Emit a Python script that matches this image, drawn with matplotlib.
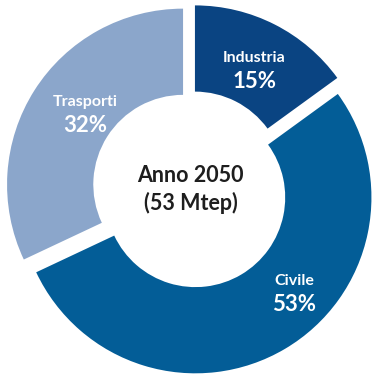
import numpy as np
import matplotlib.pyplot as plt

settori = ["Industria", "Civile", "Trasporti"]
quote = [15, 53, 32]
colori = ["#0a4482", "#035d97", "#8ba6cb"]
titolo = "Anno 2050\n(53 Mtep)"

# posizioni delle etichette (angolo in gradi, raggio)
pos_etichette = [(62, 0.72), (-44, 0.78), (144, 0.69)]

plt.rcParams["font.family"] = ["Lato", "DejaVu Sans"]

fig = plt.figure(figsize=(3.74, 3.79), dpi=100)
ax = fig.add_axes([0, 0, 1, 1])

wedges, _ = ax.pie(quote, colors=colori, startangle=90, counterclock=False,
                   explode=[0.052] * len(quote),
                   wedgeprops={"width": 0.49, "linewidth": 0})

for w, nome, q, (ang, r) in zip(wedges, settori, quote, pos_etichette):
    cx, cy = w.center
    x = cx + r * np.cos(np.radians(ang))
    y = cy + r * np.sin(np.radians(ang))
    ax.text(x, y + 0.065, nome, color="white", ha="center", va="center",
            fontsize=11.5, fontweight="bold")
    ax.text(x, y - 0.068, "%d%%" % q, color="white", ha="center", va="center",
            fontsize=16, fontweight="bold")

ax.text(0, 0.0, titolo, ha="center", va="center", fontsize=15.5,
        fontweight="bold", color="#1e1e1e", linespacing=1.3)

ax.set_xlim(-1.084, 1.041)
ax.set_ylim(-1.077, 1.077)
ax.set_aspect("auto")
ax.axis("off")

fig.savefig("out.png", dpi=100)
